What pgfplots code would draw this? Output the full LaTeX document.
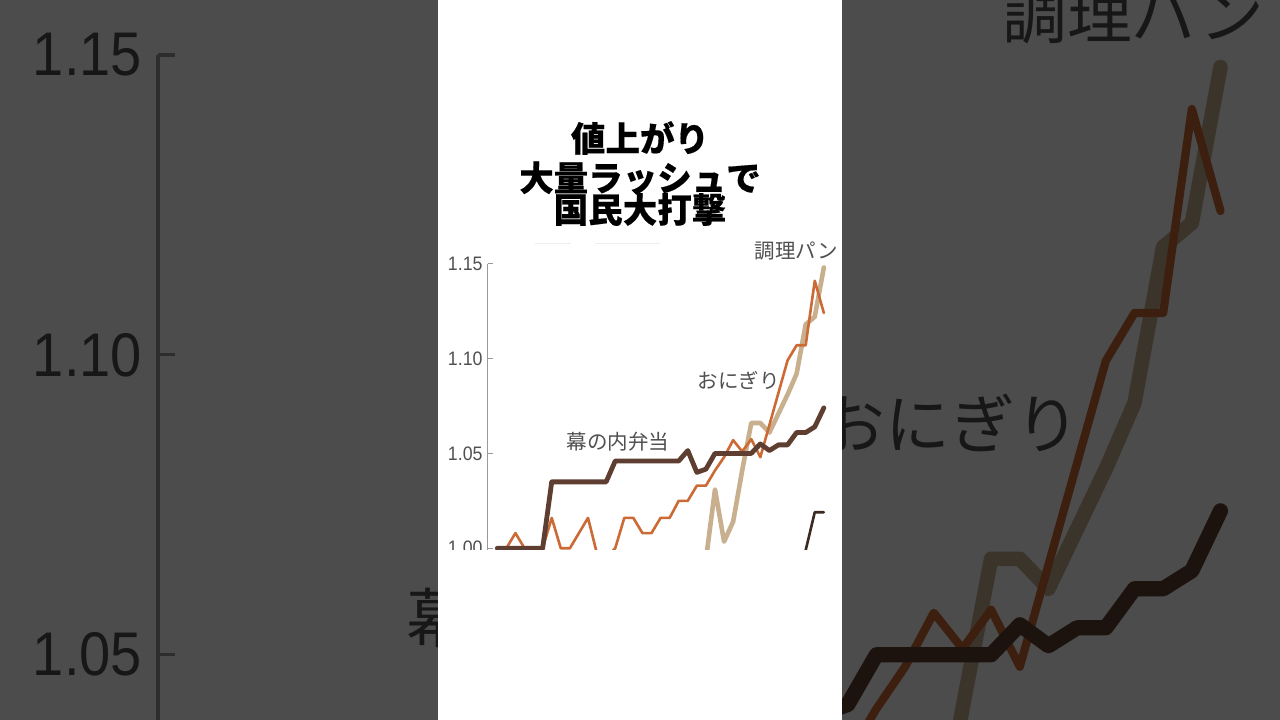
\documentclass[border=0pt]{standalone}
\usepackage{fontspec}
\usepackage{pgfplots}
\usepackage{pgfplotstable}
\pgfplotsset{compat=1.18}
\newfontfamily\cjk{Noto Sans CJK JP}
\newfontfamily\cjkt{Noto Sans CJK JP}[BoldFeatures={FakeBold=0.45}]
\newfontfamily\tickfont{Liberation Sans}[FakeStretch=0.91]
\definecolor{orangeL}{HTML}{CC6A35}
\definecolor{tanL}{HTML}{C8B08E}
\definecolor{darkL}{HTML}{5E3E30}
\definecolor{blackL}{HTML}{3A2A22}
\definecolor{axgray}{HTML}{9A9A9A}
\definecolor{labgray}{HTML}{505050}

% 幕の内弁当
\pgfplotstableread{
i v
0 1.000
1 1.000
2 1.000
3 1.000
4 1.000
5 1.000
6 1.035
7 1.035
8 1.035
9 1.035
10 1.035
11 1.035
12 1.035
13 1.046
14 1.046
15 1.046
16 1.046
17 1.046
18 1.046
19 1.046
20 1.046
21 1.0515
22 1.040
23 1.0417
24 1.050
25 1.050
26 1.050
27 1.050
28 1.050
29 1.055
30 1.0515
31 1.0545
32 1.0545
33 1.061
34 1.061
35 1.064
36 1.074
}\tabD

% おにぎり
\pgfplotstableread{
i v
0 1.000
1 1.000
2 1.008
3 1.000
4 1.000
5 1.000
6 1.016
7 1.000
8 1.000
9 1.008
10 1.016
11 0.997
12 0.995
13 1.000
14 1.016
15 1.016
16 1.008
17 1.008
18 1.016
19 1.016
20 1.025
21 1.025
22 1.033
23 1.033
24 1.041
25 1.048
26 1.057
27 1.051
28 1.0575
29 1.048
30 1.065
31 1.082
32 1.099
33 1.107
34 1.107
35 1.141
36 1.124
}\tabO

% 調理パン
\pgfplotstableread{
i v
22 0.990
23 0.994
24 1.031
25 1.0035
26 1.014
27 1.041
28 1.066
29 1.066
30 1.061
31 1.071
32 1.081
33 1.092
34 1.118
35 1.122
36 1.148
}\tabT

% fourth series
\pgfplotstableread{
i v
32 0.990
33 0.992
34 0.999
35 1.019
36 1.019
}\tabK

\newcommand\chart[3]{%
\pgfmathsetmacro\W{345.2*#1}%
\pgfmathsetmacro\H{322.5*#1}%
\pgfmathsetmacro\lwT{4.6*#1}%
\pgfmathsetmacro\lwD{4.8*#1}%
\pgfmathsetmacro\lwO{2.6*#1}%
\pgfmathsetmacro\lwK{2.6*#1}%
\pgfmathsetmacro\lwAx{1.0*#1}%
\pgfmathsetmacro\tl{5.5*#1}%
\pgfmathsetmacro\gap{5*#1}%
\pgfmathsetmacro\fsT{19.5*#1}%
\pgfmathsetmacro\fsL{20.5*#1}%
\begin{axis}[
  at={(#2pt,#3pt)}, anchor=south west,
  scale only axis, width=\W pt, height=\H pt,
  xmin=-1.058, xmax=37, ymin=0.98, ymax=1.15,
  axis x line=none, axis y line*=left,
  y axis line style={-, color=axgray, line width=\lwAx pt},
  ytick={1,1.05,1.1,1.15},
  yticklabels={1.00,1.05,1.10,1.15},
  tick align=inside,
  major tick length=\tl pt,
  ytick style={color=axgray, line width=\lwAx pt},
  yticklabel style={font={\fontsize{\fsT}{\fsT}\tickfont}, text=labgray,
    inner sep=0pt, anchor=east, xshift=-\gap pt},
  clip mode=individual,
]
\addplot[tanL, line width=\lwT pt, line join=round, line cap=round] table[x=i,y=v]{\tabT};
\addplot[orangeL, line width=\lwO pt, line join=round, line cap=round] table[x=i,y=v]{\tabO};
\addplot[darkL, line width=\lwD pt, line join=round, line cap=round] table[x=i,y=v]{\tabD};
\addplot[blackL, line width=\lwK pt, line join=round, line cap=round] table[x=i,y=v]{\tabK};
\node[anchor=west, inner sep=0pt, text=labgray, font={\fontsize{\fsL}{\fsL}\cjk}] at (axis cs:7.61,1.0562) {幕の内弁当};
\node[anchor=west, inner sep=0pt, text=labgray, font={\fontsize{\fsL}{\fsL}\cjk}] at (axis cs:22.05,1.0887) {おにぎり};
\node[anchor=west, inner sep=0pt, text=labgray, font={\fontsize{\fsL}{\fsL}\cjk}] at (axis cs:28.38,1.1567) {調理パン};
\end{axis}%
}

\begin{document}
\begin{tikzpicture}
\path[use as bounding box] (0pt,0pt) rectangle (1280pt,720pt);
\clip (0pt,0pt) rectangle (1280pt,720pt);
\fill[white] (0pt,0pt) rectangle (1280pt,720pt);
% enlarged background copy
\chart{3.161}{158}{-354.5}
\fill[black,opacity=0.7] (0pt,0pt) rectangle (1280pt,720pt);
% central panel
\fill[white] (438pt,0pt) rectangle (842pt,720pt);
\fill[black!7] (535pt,475.5pt) rectangle (571pt,477pt);
\fill[black!7] (595pt,475.5pt) rectangle (660pt,477pt);
\node[font={\fontsize{34.5}{34.5}\cjkt\bfseries}, inner sep=0pt] at (640pt,582pt) {値上がり};
\node[font={\fontsize{34.5}{34.5}\cjkt\bfseries}, inner sep=0pt] at (640pt,542pt) {大量ラッシュで};
\node[font={\fontsize{34.5}{34.5}\cjkt\bfseries}, inner sep=0pt] at (640pt,510.5pt) {国民大打撃};
\begin{scope}
\clip (438pt,170pt) rectangle (842pt,720pt);
\chart{1}{487.7}{133.8}
\end{scope}
\end{tikzpicture}
\end{document}
